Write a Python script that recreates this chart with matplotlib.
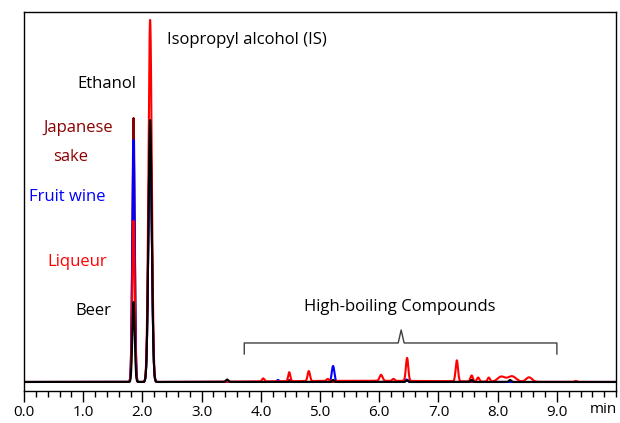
import matplotlib
matplotlib.use('Agg')
import matplotlib.pyplot as plt
import numpy as np

plt.rcParams['font.family'] = ['Open Sans', 'DejaVu Sans']

# peak tables: retention time (min), height (a.u.), sigma (min)
sake_t = [1.85, 2.13, 4.48, 6.47]
sake_h = [264, 255, 2, 2]
sake_w = [0.02, 0.028, 0.02, 0.02]

fruit_t = [1.85, 2.13, 4.29, 5.22, 6.46, 7.56]
fruit_h = [242, 255, 2, 16, 2.5, 1.5]
fruit_w = [0.02, 0.028, 0.02, 0.022, 0.02, 0.02]

liqueur_t = [1.85, 2.13, 4.04, 4.48, 4.81, 5.13, 6.03, 6.24, 6.47, 7.31,
             7.56, 7.67, 7.85, 8.06, 8.24, 8.53, 9.32, 5.8]
liqueur_h = [161, 362, 3, 9, 10, 2, 6, 2, 23, 21,
             6, 4, 4, 5, 5.5, 4.5, 1, 1.2]
liqueur_w = [0.02, 0.028, 0.02, 0.018, 0.02, 0.02, 0.025, 0.02, 0.02, 0.02,
             0.02, 0.02, 0.02, 0.06, 0.07, 0.05, 0.02, 1.4]

beer_t = [1.85, 2.13, 3.43, 5.22, 6.47, 7.56, 8.21]
beer_h = [80, 262, 2.5, 2, 1.5, 2, 2]
beer_w = [0.02, 0.028, 0.02, 0.02, 0.02, 0.02, 0.02]

t = np.linspace(0, 10, 6001)


def trace(times, heights, widths):
    y = np.zeros_like(t)
    for c, h, w in zip(times, heights, widths):
        y += h * np.exp(-0.5 * ((t - c) / w) ** 2)
    return y


fig = plt.figure(figsize=(6.2, 4.23), dpi=100)
ax = fig.add_axes([0.0387, 0.0757, 0.955, 0.896])

ax.plot(t, trace(sake_t, sake_h, sake_w), color='#8b0000', lw=1.5)
ax.plot(t, trace(fruit_t, fruit_h, fruit_w), color='#0000ff', lw=1.5)
ax.plot(t, trace(liqueur_t, liqueur_h, liqueur_w), color='#ff0000', lw=1.5)
ax.plot(t, trace(beer_t, beer_h, beer_w), color='black', lw=1.5)

ax.set_xlim(0, 10)
ax.set_ylim(-9, 370)
ax.set_yticks([])
ax.set_xticks(np.arange(0, 10, 1.0))
ax.set_xticklabels(['%.1f' % v for v in np.arange(0, 10, 1.0)], fontsize=11)
ax.set_xticks(np.arange(0, 10.01, 0.2), minor=True)
ax.tick_params(axis='x', which='major', length=8, width=1, direction='out', pad=2)
ax.tick_params(axis='x', which='minor', length=4.5, width=1, direction='out')
for s in ax.spines.values():
    s.set_linewidth(1)
ax.annotate('min', xy=(9.78, 0), xycoords=('data', 'axes fraction'),
            xytext=(0, -8), textcoords='offset points',
            fontsize=11, ha='center', va='top')

fs = 12
ax.text(3.77, 342, 'Isopropyl alcohol (IS)', fontsize=fs, ha='center', va='center')
ax.text(1.40, 298, 'Ethanol', fontsize=fs, ha='center', va='center')
ax.text(0.91, 254, 'Japanese', fontsize=fs, ha='center', va='center', color='#8b0000')
ax.text(0.78, 225, 'sake', fontsize=fs, ha='center', va='center', color='#8b0000')
ax.text(0.73, 185, 'Fruit wine', fontsize=fs, ha='center', va='center', color='#0000ff')
ax.text(0.90, 120, 'Liqueur', fontsize=fs, ha='center', va='center', color='#ff0000')
ax.text(1.17, 71, 'Beer', fontsize=fs, ha='center', va='center')
ax.text(6.35, 75, 'High-boiling Compounds', fontsize=fs, ha='center', va='center')

# bracket
bx = [3.72, 3.72, 6.32, 6.37, 6.42, 9.0, 9.0]
by = [28, 39, 39, 52, 39, 39, 28]
ax.plot(bx, by, color='#404040', lw=1)

fig.savefig('out.png', dpi=100)
